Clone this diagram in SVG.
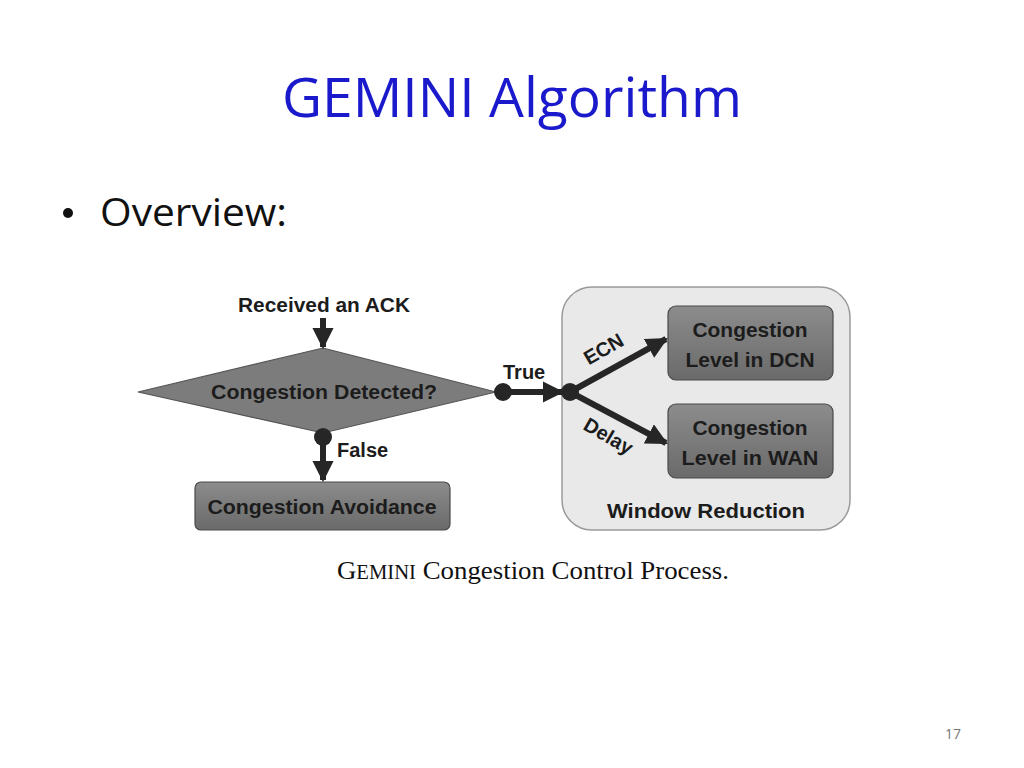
<svg xmlns="http://www.w3.org/2000/svg" width="1024" height="768" viewBox="0 0 1024 768">
<defs>
<linearGradient id="g" x1="0" y1="0" x2="0" y2="1"><stop offset="0" stop-color="#8c8c8c"/><stop offset="1" stop-color="#6a6a6a"/></linearGradient>
<marker id="ah" viewBox="0 0 10 10" refX="9" refY="5" markerWidth="3.6" markerHeight="3.6" orient="auto" markerUnits="strokeWidth"><path d="M0,0 L10,5 L0,10 z" fill="#262626"/></marker>
</defs>
<style>
.t{font-family:"Liberation Sans",Arial,sans-serif;font-weight:bold;fill:#1c1c1c;font-size:20px}
.c{stroke:#262626;stroke-width:6;fill:none}
.box{fill:url(#g);stroke:#4a4a4a;stroke-width:1.2}
</style>
<rect width="1024" height="768" fill="#fff"/>
<text x="512" y="117" text-anchor="middle" font-family="'Open Sans','Liberation Sans',sans-serif" font-size="55" fill="#1a1acc" textLength="460" lengthAdjust="spacingAndGlyphs">GEMINI Algorithm</text>
<circle cx="68" cy="213" r="5" fill="#111"/>
<text x="100" y="226" font-family="'Open Sans','Liberation Sans',sans-serif" font-size="38" fill="#111" textLength="187" lengthAdjust="spacingAndGlyphs">Overview:</text>
<g id="window-reduction"><rect x="562" y="287" width="288" height="243" rx="30" fill="#e9e9e9" stroke="#9a9a9a" stroke-width="1.5"/>
<text class="t" x="706" y="518" text-anchor="middle" textLength="198" lengthAdjust="spacingAndGlyphs">Window Reduction</text></g>
<g id="start"><text class="t" x="324" y="312" text-anchor="middle" textLength="172" lengthAdjust="spacingAndGlyphs">Received an ACK</text></g>
<g id="decision"><polygon points="138,392 323,348 496,392 323,433" fill="#7c7c7c" stroke="#555" stroke-width="1.2"/>
<text class="t" x="324" y="399" text-anchor="middle" textLength="226" lengthAdjust="spacingAndGlyphs">Congestion Detected?</text></g>
<g id="avoidance"><rect class="box" x="195" y="482" width="255" height="48" rx="6"/>
<text class="t" x="322" y="514" text-anchor="middle" textLength="229" lengthAdjust="spacingAndGlyphs">Congestion Avoidance</text></g>
<g id="dcn"><rect class="box" x="668" y="306" width="165" height="74" rx="8"/>
<text class="t" x="750" y="337" text-anchor="middle" textLength="115" lengthAdjust="spacingAndGlyphs">Congestion</text>
<text class="t" x="750" y="367" text-anchor="middle" textLength="129" lengthAdjust="spacingAndGlyphs">Level in DCN</text></g>
<g id="wan"><rect class="box" x="668" y="404" width="165" height="74" rx="8"/>
<text class="t" x="750" y="435" text-anchor="middle" textLength="115" lengthAdjust="spacingAndGlyphs">Congestion</text>
<text class="t" x="750" y="465" text-anchor="middle" textLength="137" lengthAdjust="spacingAndGlyphs">Level in WAN</text></g>
<g id="connectors">
<line class="c" x1="323" y1="318" x2="323" y2="347" marker-end="url(#ah)"/>
<circle cx="323" cy="437" r="9" fill="#262626"/>
<line class="c" x1="323" y1="437" x2="323" y2="480" marker-end="url(#ah)"/>
<text class="t" x="337" y="457">False</text>
<circle cx="503" cy="392" r="9" fill="#262626"/>
<line class="c" x1="503" y1="392" x2="562" y2="392" marker-end="url(#ah)"/>
<text class="t" x="503" y="379">True</text>
<circle cx="570" cy="392" r="9" fill="#262626"/>
<line class="c" x1="570" y1="392" x2="666" y2="339" marker-end="url(#ah)"/>
<line class="c" x1="570" y1="392" x2="666" y2="443" marker-end="url(#ah)"/>
<text class="t" x="607" y="355" text-anchor="middle" transform="rotate(-30 607 355)">ECN</text>
<text class="t" x="605" y="442" text-anchor="middle" transform="rotate(30 605 442)">Delay</text>
</g>
<text x="533" y="579" text-anchor="middle" font-family="'Liberation Serif','Times New Roman',serif" font-size="26" fill="#111" textLength="392" lengthAdjust="spacingAndGlyphs">G<tspan font-size="20">EMINI</tspan> Congestion Control Process.</text>
<text x="953" y="739" text-anchor="middle" font-family="'Open Sans','Liberation Sans',sans-serif" font-size="14" fill="#777">17</text>
</svg>
